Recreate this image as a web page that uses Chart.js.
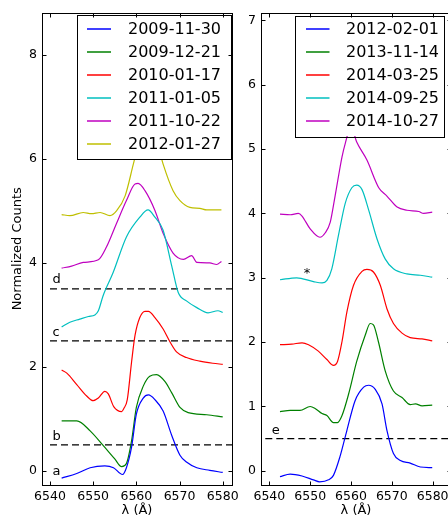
<!DOCTYPE html>
<html>
<head>
<meta charset="utf-8">
<script src="https://cdn.jsdelivr.net/npm/chart.js@4.4.1/dist/chart.umd.min.js"></script>
<style>
html, body { margin: 0; padding: 0; background: #fff; overflow: hidden; width: 448px; height: 521px; }
canvas { position: absolute; top: 0; }
#left { left: 0; }
#right { left: 232px; }
</style>
</head>
<body>
<canvas id="left" width="250" height="521"></canvas>
<canvas id="right" width="240" height="521"></canvas>
<script>
// ---- left panel spectra (wavelength in A, normalized counts incl. offset) ----
const leftDates = ["2009-11-30", "2009-12-21", "2010-01-17", "2011-01-05", "2011-10-22", "2012-01-27"];

const wl_091130 = [6542.7, 6546.2, 6549.3, 6552.7, 6554.7, 6556.8, 6557.7, 6558.9, 6560.0, 6561.6, 6562.8, 6564.3, 6566.2, 6568.2, 6570.1, 6571.6, 6574.0, 6577.0, 6580.0];
const ct_091130 = [-0.14, -0.05, 0.06, 0.095, 0.06, -0.07, 0.06, 0.46, 1.09, 1.40, 1.46, 1.37, 1.15, 0.68, 0.30, 0.17, 0.06, 0.01, -0.03];

const wl_091221 = [6542.7, 6546.2, 6549.3, 6552.3, 6555.0, 6556.6, 6557.7, 6558.9, 6560.0, 6561.6, 6563.1, 6564.7, 6566.6, 6568.2, 6570.1, 6572.0, 6576.3, 6580.0];
const ct_091221 = [0.96, 0.96, 0.77, 0.49, 0.23, 0.08, 0.14, 0.58, 1.22, 1.63, 1.82, 1.85, 1.72, 1.50, 1.22, 1.12, 1.08, 1.04];

const wl_100117 = [6542.7, 6543.9, 6546.2, 6548.5, 6550.0, 6551.2, 6552.7, 6553.5, 6554.8, 6556.6, 6557.1, 6557.9, 6558.9, 6559.7, 6560.8, 6562.0, 6562.8, 6564.3, 6566.2, 6567.8, 6569.3, 6571.6, 6574.7, 6577.7, 6580.0];
const ct_100117 = [1.94, 1.88, 1.66, 1.44, 1.35, 1.40, 1.53, 1.48, 1.23, 1.14, 1.20, 1.37, 2.10, 2.61, 2.95, 3.07, 3.07, 2.95, 2.73, 2.48, 2.29, 2.18, 2.11, 2.07, 2.05];

const wl_110105 = [6542.7, 6544.6, 6546.9, 6548.9, 6550.4, 6551.2, 6552.3, 6554.6, 6557.7, 6560.8, 6562.7, 6564.3, 6566.2, 6568.2, 6569.7, 6571.6, 6574.0, 6576.6, 6578.9, 6580.0];
const ct_110105 = [2.77, 2.86, 2.92, 2.97, 3.00, 3.08, 3.37, 3.81, 4.50, 4.88, 5.02, 4.88, 4.63, 3.94, 3.43, 3.27, 3.14, 3.04, 3.08, 3.05];

const wl_111022 = [6542.7, 6545.0, 6547.7, 6551.2, 6553.1, 6555.4, 6557.7, 6559.7, 6560.4, 6562.0, 6564.3, 6566.2, 6568.5, 6570.9, 6572.8, 6574.0, 6577.0, 6578.6, 6579.7];
const ct_111022 = [3.90, 3.94, 4.01, 4.06, 4.31, 4.76, 5.20, 5.52, 5.53, 5.39, 5.01, 4.57, 4.19, 4.07, 4.14, 4.01, 4.00, 3.97, 4.03];

const wl_120127 = [6542.7, 6544.6, 6547.7, 6549.6, 6551.6, 6553.9, 6555.4, 6557.4, 6559.3, 6561.0, 6562.5, 6564.5, 6566.2, 6568.5, 6570.1, 6572.4, 6574.7, 6576.3, 6579.7];
const ct_120127 = [4.93, 4.91, 4.97, 4.95, 4.97, 4.91, 5.00, 5.29, 5.90, 6.45, 6.60, 6.40, 5.90, 5.39, 5.20, 5.07, 5.05, 5.02, 5.02];

// ---- right panel spectra ----
const rightDates = ["2012-02-01", "2013-11-14", "2014-03-25", "2014-09-25", "2014-10-27"];

const wl_120201 = [6542.6, 6545.1, 6548.0, 6550.8, 6552.3, 6554.5, 6555.7, 6557.3, 6559.0, 6561.0, 6563.1, 6564.3, 6565.9, 6567.6, 6568.8, 6570.4, 6572.1, 6574.5, 6577.0, 6579.9];
const ct_120201 = [-0.09, -0.05, -0.08, -0.14, -0.17, -0.14, -0.07, 0.22, 0.63, 1.09, 1.30, 1.33, 1.27, 1.04, 0.63, 0.27, 0.16, 0.12, 0.06, 0.05];

const wl_131114 = [6542.6, 6545.1, 6547.5, 6550.0, 6551.2, 6552.9, 6554.1, 6555.7, 6556.7, 6557.8, 6559.4, 6561.4, 6563.5, 6564.7, 6565.5, 6566.7, 6568.4, 6570.4, 6572.5, 6574.5, 6575.8, 6577.4, 6579.9];
const ct_131114 = [0.92, 0.94, 0.94, 1.00, 0.97, 0.89, 0.86, 0.75, 0.75, 0.86, 1.19, 1.70, 2.11, 2.29, 2.27, 2.01, 1.55, 1.24, 1.14, 1.03, 1.04, 1.01, 1.02];

const wl_140325 = [6542.6, 6545.5, 6548.0, 6549.6, 6552.0, 6554.1, 6555.7, 6556.7, 6557.8, 6559.0, 6560.6, 6562.7, 6563.9, 6565.5, 6567.2, 6568.8, 6570.4, 6572.5, 6574.5, 6577.4, 6579.9];
const ct_140325 = [1.96, 1.97, 1.99, 1.96, 1.86, 1.73, 1.64, 1.70, 2.01, 2.47, 2.88, 3.10, 3.13, 3.09, 2.88, 2.52, 2.29, 2.14, 2.07, 2.05, 2.02];

const wl_140925 = [6542.6, 6546.7, 6550.8, 6552.9, 6554.1, 6555.3, 6556.9, 6558.6, 6560.2, 6561.4, 6562.7, 6564.3, 6566.4, 6568.4, 6570.4, 6573.7, 6577.0, 6579.9];
const ct_140925 = [2.97, 3.00, 2.94, 2.92, 2.96, 3.14, 3.65, 4.16, 4.40, 4.44, 4.37, 4.06, 3.60, 3.29, 3.14, 3.06, 3.04, 3.01];

const wl_141027 = [6542.6, 6545.1, 6547.1, 6548.0, 6550.0, 6552.4, 6553.7, 6554.9, 6556.1, 6557.8, 6558.6, 6560.0, 6561.4, 6563.9, 6566.8, 6568.8, 6571.3, 6573.7, 6576.6, 6577.8, 6579.9];
const ct_141027 = [3.99, 3.98, 4.00, 3.96, 3.76, 3.63, 3.70, 3.86, 4.27, 4.88, 5.09, 5.35, 5.11, 4.83, 4.40, 4.27, 4.10, 4.05, 4.03, 4.00, 4.02];

// reference levels (dashed) and their letters
const leftLevels = [0.5, 2.5, 3.5];
const leftLevelSpan = [6540, 6582.2];
const leftMarkText = ["a", "b", "c", "d"];
const leftMarkX = [6540.6, 6540.6, 6540.6, 6540.6];
const leftMarkY = [-0.02, 0.66, 2.65, 3.67];

const rightLevels = [0.5];
const rightLevelSpan = [6539, 6585];
const rightMarkText = ["e", "*"];
const rightMarkX = [6540.6, 6548.4];
const rightMarkY = [0.63, 3.06];

const xTicksStep = 10;
const colors = ['#0000ff', '#008000', '#ff0000', '#00bfbf', '#bf00bf', '#bfbf00'];

function pts(xs, ys) {
    return xs.map((x, i) => ({ x: x, y: ys[i] }));
}

// box round the plot + inward tick marks on all four sides
const framePlugin = {
    id: 'frame',
    afterDraw(chart) {
        const { ctx, chartArea: a, scales } = chart;
        ctx.save();
        ctx.strokeStyle = '#000';
        ctx.lineWidth = 1;
        const L = Math.round(a.left) + 0.5, R = Math.round(a.right) + 0.5;
        const T = Math.round(a.top) + 0.5, B = Math.round(a.bottom) + 0.5;
        ctx.strokeRect(L, T, R - L, B - T);
        ctx.beginPath();
        scales.x.ticks.forEach(t => {
            const px = Math.round(scales.x.getPixelForValue(t.value)) + 0.5;
            ctx.moveTo(px, B); ctx.lineTo(px, B - 4);
            ctx.moveTo(px, T); ctx.lineTo(px, T + 4);
        });
        scales.y.ticks.forEach(t => {
            const py = Math.round(scales.y.getPixelForValue(t.value)) + 0.5;
            ctx.moveTo(L, py); ctx.lineTo(L + 4, py);
            ctx.moveTo(R, py); ctx.lineTo(R - 4, py);
        });
        ctx.stroke();
        ctx.restore();
    }
};

// letters next to the reference levels
const marksPlugin = {
    id: 'marks',
    afterDatasetsDraw(chart, args, opts) {
        const { ctx, scales } = chart;
        ctx.save();
        ctx.fillStyle = '#000';
        ctx.font = '13px "DejaVu Sans"';
        ctx.textAlign = 'left';
        ctx.textBaseline = 'middle';
        opts.text.forEach((s, i) => {
            ctx.fillText(s, scales.x.getPixelForValue(opts.x[i]), scales.y.getPixelForValue(opts.y[i]));
        });
        ctx.restore();
    }
};

// matplotlib-like legend box inside the axes
const boxLegendPlugin = {
    id: 'boxLegend',
    afterDatasetsDraw(chart, args, opts) {
        const ctx = chart.ctx;
        const b = opts.box;
        ctx.save();
        ctx.fillStyle = '#fff';
        ctx.fillRect(b.x, b.y, b.w, b.h);
        ctx.strokeStyle = '#000';
        ctx.lineWidth = 1;
        ctx.strokeRect(Math.round(b.x) + 0.5, Math.round(b.y) + 0.5, Math.round(b.w), Math.round(b.h));
        ctx.font = '16px "DejaVu Sans"';
        ctx.textBaseline = 'middle';
        ctx.textAlign = 'left';
        let row = 0;
        chart.data.datasets.forEach(ds => {
            if (!ds.inLegend) return;
            const y = b.row0 + row * b.step;
            ctx.strokeStyle = ds.borderColor;
            ctx.lineWidth = 1.5;
            ctx.beginPath();
            ctx.moveTo(b.line0, y);
            ctx.lineTo(b.line1, y);
            ctx.stroke();
            ctx.fillStyle = '#000';
            ctx.fillText(ds.label, b.text, y + 1);
            row++;
        });
        ctx.restore();
    }
};

function makePanel(id, dates, series, levels, span, marks, xr, yr, yStep, yAxisW, padRight, box, yTitle) {
    const datasets = series.map((s, i) => ({
        label: dates[i],
        inLegend: true,
        data: pts(s[0], s[1]),
        borderColor: colors[i],
        borderWidth: 1.2,
        pointRadius: 0,
        cubicInterpolationMode: 'monotone',
        fill: false
    }));
    levels.forEach(v => {
        datasets.push({
            label: 'level',
            inLegend: false,
            data: pts(span, [v, v]),
            borderColor: '#000',
            borderWidth: 1.2,
            borderDash: [7, 4],
            pointRadius: 0,
            fill: false
        });
    });

    return new Chart(document.getElementById(id), {
        type: 'line',
        data: { datasets: datasets },
        options: {
            responsive: false,
            animation: false,
            layout: { padding: { top: 7, right: padRight, left: 0, bottom: 0 } },
            plugins: {
                legend: { display: false },
                tooltip: { enabled: false },
                marks: marks,
                boxLegend: { box: box }
            },
            scales: {
                x: {
                    type: 'linear',
                    min: xr[0], max: xr[1],
                    grid: { display: false, drawTicks: false },
                    border: { display: false },
                    ticks: {
                        stepSize: xTicksStep, includeBounds: false, padding: 4,
                        color: '#000', font: { family: 'DejaVu Sans', size: 12.5 },
                        maxRotation: 0,
                        callback: v => String(v)
                    },
                    title: {
                        display: true, text: 'λ (Å)', color: '#000',
                        font: { family: 'DejaVu Sans', size: 13 },
                        padding: { top: 0, bottom: 3 }
                    },
                    afterFit: sc => { sc.height = 36; }
                },
                y: {
                    type: 'linear',
                    min: yr[0], max: yr[1],
                    grid: { display: false, drawTicks: false },
                    border: { display: false },
                    ticks: {
                        stepSize: yStep, includeBounds: false, padding: 5,
                        color: '#000', font: { family: 'DejaVu Sans', size: 12.5 },
                        callback: v => String(v)
                    },
                    title: {
                        display: !!yTitle, text: yTitle || '', color: '#000',
                        font: { family: 'DejaVu Sans', size: 13 },
                        padding: { top: 10, bottom: 0 }
                    },
                    afterFit: sc => { sc.width = yAxisW; }
                }
            }
        },
        plugins: [boxLegendPlugin, marksPlugin, framePlugin]
    });
}

makePanel('left', leftDates,
    [[wl_091130, ct_091130], [wl_091221, ct_091221], [wl_100117, ct_100117],
     [wl_110105, ct_110105], [wl_111022, ct_111022], [wl_120127, ct_120127]],
    leftLevels, leftLevelSpan,
    { text: leftMarkText, x: leftMarkX, y: leftMarkY },
    [6538.15, 6582.15], [-0.272, 8.818], 2, 42, 18,
    { x: 76.5, y: 15, w: 153.5, h: 144, line0: 87, line1: 111, text: 128, row0: 29, step: 23 },
    'Normalized Counts');

makePanel('right', rightDates,
    [[wl_120201, ct_120201], [wl_131114, ct_131114], [wl_140325, ct_140325],
     [wl_140925, ct_140925], [wl_141027, ct_141027]],
    rightLevels, rightLevelSpan,
    { text: rightMarkText, x: rightMarkX, y: rightMarkY },
    [6537.95, 6584.5], [-0.22, 7.123], 1, 29, 21,
    { x: 62.5, y: 15.5, w: 148.5, h: 120.5, line0: 74, line1: 97.5, text: 114, row0: 29, step: 23 },
    '');
</script>
</body>
</html>
